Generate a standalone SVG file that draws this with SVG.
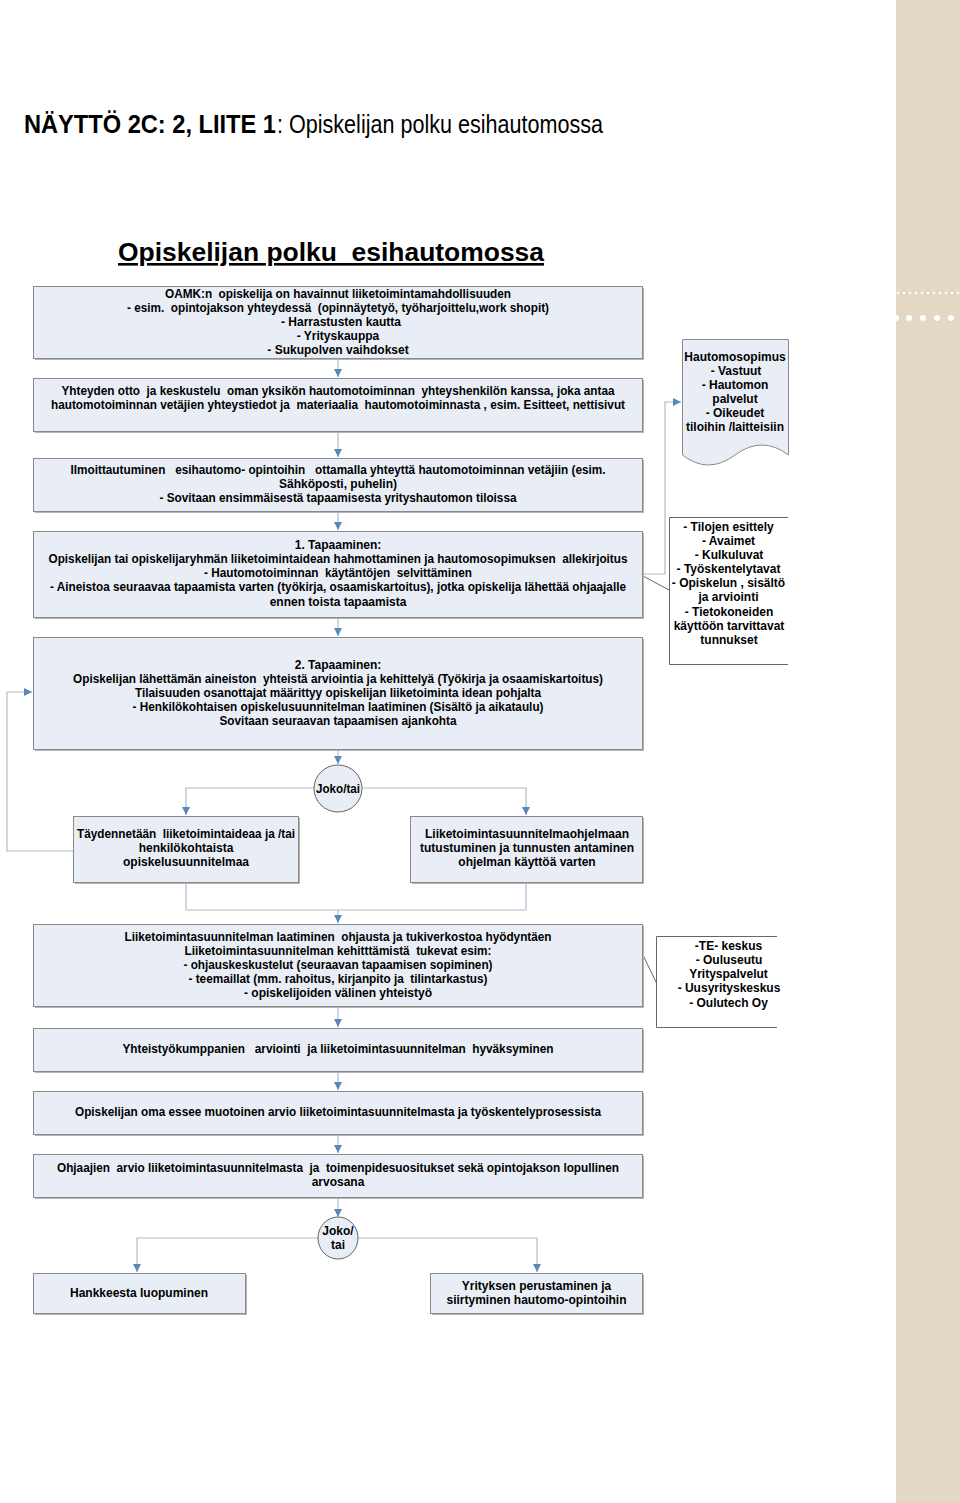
<svg xmlns="http://www.w3.org/2000/svg" width="960" height="1503" viewBox="0 0 960 1503">
<defs>
<style>
.bx{fill:#e9eef6;stroke:#8a8a8a;stroke-width:1}
.sh{fill:#b5b5b5}
.t{font-family:"Liberation Sans",Arial,sans-serif;font-size:12px;font-weight:bold;fill:#000;text-anchor:middle;white-space:pre}
.c{fill:none;stroke:#aebbcc;stroke-width:1.2}
.an{fill:none;stroke:#666;stroke-width:1}
</style>
<marker id="ah" markerUnits="userSpaceOnUse" markerWidth="9" markerHeight="9" refX="8" refY="4" orient="auto">
<path d="M0,0 L8,4 L0,8 z" fill="#5b87bb"/>
</marker>
</defs>
<rect x="0" y="0" width="960" height="1503" fill="#ffffff"/>
<!-- sidebar -->
<g id="sidebar">
<rect x="896" y="0" width="64" height="1503" fill="#e3d8c3"/>
<g fill="#ffffff">
<circle cx="898" cy="293" r="1.3"/><circle cx="904" cy="293" r="1.3"/><circle cx="910" cy="293" r="1.3"/><circle cx="916" cy="293" r="1.3"/><circle cx="922" cy="293" r="1.3"/><circle cx="928" cy="293" r="1.3"/><circle cx="934" cy="293" r="1.3"/><circle cx="940" cy="293" r="1.3"/><circle cx="946" cy="293" r="1.3"/><circle cx="952" cy="293" r="1.3"/><circle cx="958" cy="293" r="1.3"/>
<circle cx="896" cy="318" r="3"/><circle cx="909" cy="318" r="3"/><circle cx="923" cy="318" r="3"/><circle cx="937" cy="318" r="3"/><circle cx="951" cy="318" r="3"/>
</g>
</g>
<!-- titles -->
<g id="title">
<text x="24" y="133" font-family="'Liberation Sans Narrow','Liberation Sans',Arial,sans-serif" font-size="25" font-weight="bold" textLength="252" lengthAdjust="spacingAndGlyphs">NÄYTTÖ 2C: 2, LIITE 1</text>
<text x="277" y="133" font-family="'Liberation Sans Narrow','Liberation Sans',Arial,sans-serif" font-size="25" textLength="326" lengthAdjust="spacingAndGlyphs">: Opiskelijan polku esihautomossa</text>
<text x="118" y="261" font-family="'Liberation Sans',Arial,sans-serif" font-size="26" font-weight="bold" text-decoration="underline" style="white-space:pre" textLength="426" lengthAdjust="spacingAndGlyphs">Opiskelijan polku  esihautomossa</text>
</g>
<!-- connectors -->
<g id="connectors">
<path class="c" d="M338,359 V377" marker-end="url(#ah)"/>
<path class="c" d="M338,432 V457" marker-end="url(#ah)"/>
<path class="c" d="M338,512 V530" marker-end="url(#ah)"/>
<path class="c" d="M338,618 V636" marker-end="url(#ah)"/>
<path class="c" d="M338,750 V764" marker-end="url(#ah)"/>
<path class="c" d="M643,574 H665 V402 H681" marker-end="url(#ah)"/>
<path class="an" d="M643,576 L669,590"/>
<path class="c" d="M314,788 H186 V815" marker-end="url(#ah)"/>
<path class="c" d="M362,788 H526 V815" marker-end="url(#ah)"/>
<path class="c" d="M73,851 H7 V692 H32" marker-end="url(#ah)"/>
<path class="c" d="M186,883 V910 H526 V883"/>
<path class="c" d="M338,910 V923" marker-end="url(#ah)"/>
<path class="an" d="M643,955 L656,982"/>
<path class="c" d="M338,1007 V1027" marker-end="url(#ah)"/>
<path class="c" d="M338,1072 V1090" marker-end="url(#ah)"/>
<path class="c" d="M338,1135 V1153" marker-end="url(#ah)"/>
<path class="c" d="M338,1198 V1217" marker-end="url(#ah)"/>
<path class="c" d="M318,1238 H137 V1272" marker-end="url(#ah)"/>
<path class="c" d="M358,1238 H537 V1272" marker-end="url(#ah)"/>
</g>
<!-- nodes -->
<g id="n1">
<rect class="sh" x="35" y="288" width="609" height="72"/>
<rect class="bx" x="33.5" y="286.5" width="609" height="72"/>
<text class="t" x="338" y="298" textLength="346" lengthAdjust="spacingAndGlyphs">OAMK:n  opiskelija on havainnut liiketoimintamahdollisuuden</text>
<text class="t" x="338" y="312" textLength="422" lengthAdjust="spacingAndGlyphs">- esim.  opintojakson yhteydessä  (opinnäytetyö, työharjoittelu,work shopit)</text>
<text class="t" x="341" y="326">- Harrastusten kautta</text>
<text class="t" x="338" y="340">- Yrityskauppa</text>
<text class="t" x="338" y="354">- Sukupolven vaihdokset</text>
</g>
<g id="n2">
<rect class="sh" x="35" y="380" width="609" height="53"/>
<rect class="bx" x="33.5" y="378.5" width="609" height="53"/>
<text class="t" x="338" y="395" textLength="553" lengthAdjust="spacingAndGlyphs">Yhteyden otto  ja keskustelu  oman yksikön hautomotoiminnan  yhteyshenkilön kanssa, joka antaa</text>
<text class="t" x="338" y="409" textLength="574" lengthAdjust="spacingAndGlyphs">hautomotoiminnan vetäjien yhteystiedot ja  materiaalia  hautomotoiminnasta , esim. Esitteet, nettisivut</text>
</g>
<g id="n3">
<path d="M682.5,339.5 H788.5 V455 Q762,435 735,455 T682.5,455 Z" fill="#e9eef6" stroke="#8a8a8a"/>
<text class="t" x="735" y="361">Hautomosopimus</text>
<text class="t" x="736" y="375">- Vastuut</text>
<text class="t" x="735" y="389">- Hautomon</text>
<text class="t" x="735" y="403">palvelut</text>
<text class="t" x="735" y="417">- Oikeudet</text>
<text class="t" x="735" y="431">tiloihin /laitteisiin</text>
</g>
<g id="n4">
<rect class="sh" x="35" y="460" width="609" height="53"/>
<rect class="bx" x="33.5" y="458.5" width="609" height="53"/>
<text class="t" x="338" y="474" textLength="535" lengthAdjust="spacingAndGlyphs">Ilmoittautuminen   esihautomo- opintoihin   ottamalla yhteyttä hautomotoiminnan vetäjiin (esim.</text>
<text class="t" x="338" y="488">Sähköposti, puhelin)</text>
<text class="t" x="338" y="502" textLength="357" lengthAdjust="spacingAndGlyphs">- Sovitaan ensimmäisestä tapaamisesta yrityshautomon tiloissa</text>
</g>
<g id="n5">
<rect class="sh" x="35" y="533" width="609" height="86"/>
<rect class="bx" x="33.5" y="531.5" width="609" height="86"/>
<text class="t" x="338" y="549">1. Tapaaminen:</text>
<text class="t" x="338" y="563" textLength="579" lengthAdjust="spacingAndGlyphs">Opiskelijan tai opiskelijaryhmän liiketoimintaidean hahmottaminen ja hautomosopimuksen  allekirjoitus</text>
<text class="t" x="338" y="577" textLength="268" lengthAdjust="spacingAndGlyphs">- Hautomotoiminnan  käytäntöjen  selvittäminen</text>
<text class="t" x="338" y="591" textLength="576" lengthAdjust="spacingAndGlyphs">- Aineistoa seuraavaa tapaamista varten (työkirja, osaamiskartoitus), jotka opiskelija lähettää ohjaajalle</text>
<text class="t" x="338" y="606">ennen toista tapaamista</text>
</g>
<g id="n6">
<path class="an" d="M788,517.5 H669.5 V664.5 H788"/>
<text class="t" x="728.5" y="531">- Tilojen esittely</text>
<text class="t" x="728.5" y="545">- Avaimet</text>
<text class="t" x="729" y="559">- Kulkuluvat</text>
<text class="t" x="728.5" y="573">- Työskentelytavat</text>
<text class="t" x="728.5" y="587">- Opiskelun , sisältö</text>
<text class="t" x="728.5" y="601">ja arviointi</text>
<text class="t" x="729" y="616">- Tietokoneiden</text>
<text class="t" x="729" y="630">käyttöön tarvittavat</text>
<text class="t" x="729" y="644">tunnukset</text>
</g>
<g id="n7">
<rect class="sh" x="35" y="639" width="609" height="112"/>
<rect class="bx" x="33.5" y="637.5" width="609" height="112"/>
<text class="t" x="338" y="669">2. Tapaaminen:</text>
<text class="t" x="338" y="683" textLength="530" lengthAdjust="spacingAndGlyphs">Opiskelijan lähettämän aineiston  yhteistä arviointia ja kehittelyä (Työkirja ja osaamiskartoitus)</text>
<text class="t" x="338" y="697" textLength="406" lengthAdjust="spacingAndGlyphs">Tilaisuuden osanottajat määrittyy opiskelijan liiketoiminta idean pohjalta</text>
<text class="t" x="338" y="711" textLength="411" lengthAdjust="spacingAndGlyphs">- Henkilökohtaisen opiskelusuunnitelman laatiminen (Sisältö ja aikataulu)</text>
<text class="t" x="338" y="725" textLength="237" lengthAdjust="spacingAndGlyphs">Sovitaan seuraavan tapaamisen ajankohta</text>
</g>
<g id="n8">
<ellipse cx="338" cy="788.5" rx="24" ry="23.5" fill="#e9eef6" stroke="#666"/>
<text class="t" x="338" y="793" textLength="44" lengthAdjust="spacingAndGlyphs">Joko/tai</text>
</g>
<g id="n9">
<rect class="sh" x="75" y="818" width="225" height="66"/>
<rect class="bx" x="73.5" y="816.5" width="225" height="66"/>
<text class="t" x="186" y="838" textLength="218" lengthAdjust="spacingAndGlyphs">Täydennetään  liiketoimintaideaa ja /tai</text>
<text class="t" x="186" y="852">henkilökohtaista</text>
<text class="t" x="186" y="866">opiskelusuunnitelmaa</text>
</g>
<g id="n10">
<rect class="sh" x="412" y="818" width="232" height="66"/>
<rect class="bx" x="410.5" y="816.5" width="232" height="66"/>
<text class="t" x="527" y="838">Liiketoimintasuunnitelmaohjelmaan</text>
<text class="t" x="527" y="852">tutustuminen ja tunnusten antaminen</text>
<text class="t" x="527" y="866">ohjelman käyttöä varten</text>
</g>
<g id="n11">
<rect class="sh" x="35" y="926" width="609" height="82"/>
<rect class="bx" x="33.5" y="924.5" width="609" height="82"/>
<text class="t" x="338" y="941" textLength="427" lengthAdjust="spacingAndGlyphs">Liiketoimintasuunnitelman laatiminen  ohjausta ja tukiverkostoa hyödyntäen</text>
<text class="t" x="338" y="955" textLength="307" lengthAdjust="spacingAndGlyphs">Liiketoimintasuunnitelman kehitttämistä  tukevat esim:</text>
<text class="t" x="338" y="969" textLength="309" lengthAdjust="spacingAndGlyphs">- ohjauskeskustelut (seuraavan tapaamisen sopiminen)</text>
<text class="t" x="338" y="983" textLength="299" lengthAdjust="spacingAndGlyphs">- teemaillat (mm. rahoitus, kirjanpito ja  tilintarkastus)</text>
<text class="t" x="338" y="997">- opiskelijoiden välinen yhteistyö</text>
</g>
<g id="n12">
<path class="an" d="M777,936.5 H656.5 V1027.5 H777"/>
<text class="t" x="728.5" y="950">-TE- keskus</text>
<text class="t" x="729" y="964">- Ouluseutu</text>
<text class="t" x="728.5" y="978">Yrityspalvelut</text>
<text class="t" x="729" y="992">- Uusyrityskeskus</text>
<text class="t" x="728.5" y="1007">- Oulutech Oy</text>
</g>
<g id="n13">
<rect class="sh" x="35" y="1030" width="609" height="43"/>
<rect class="bx" x="33.5" y="1028.5" width="609" height="43"/>
<text class="t" x="338" y="1053" textLength="431" lengthAdjust="spacingAndGlyphs">Yhteistyökumppanien   arviointi  ja liiketoimintasuunnitelman  hyväksyminen</text>
</g>
<g id="n14">
<rect class="sh" x="35" y="1093" width="609" height="43"/>
<rect class="bx" x="33.5" y="1091.5" width="609" height="43"/>
<text class="t" x="338" y="1116" textLength="526" lengthAdjust="spacingAndGlyphs">Opiskelijan oma essee muotoinen arvio liiketoimintasuunnitelmasta ja työskentelyprosessista</text>
</g>
<g id="n15">
<rect class="sh" x="35" y="1156" width="609" height="43"/>
<rect class="bx" x="33.5" y="1154.5" width="609" height="43"/>
<text class="t" x="338" y="1172" textLength="562" lengthAdjust="spacingAndGlyphs">Ohjaajien  arvio liiketoimintasuunnitelmasta  ja  toimenpidesuositukset sekä opintojakson lopullinen</text>
<text class="t" x="338" y="1186">arvosana</text>
</g>
<g id="n16">
<ellipse cx="338" cy="1238" rx="20" ry="21" fill="#e9eef6" stroke="#666"/>
<text class="t" x="338" y="1235">Joko/</text>
<text class="t" x="338" y="1249">tai</text>
</g>
<g id="n17">
<rect class="sh" x="35" y="1275" width="212" height="40"/>
<rect class="bx" x="33.5" y="1273.5" width="212" height="40"/>
<text class="t" x="139" y="1297">Hankkeesta luopuminen</text>
</g>
<g id="n18">
<rect class="sh" x="432" y="1275" width="212" height="40"/>
<rect class="bx" x="430.5" y="1273.5" width="212" height="40"/>
<text class="t" x="536.5" y="1290">Yrityksen perustaminen ja</text>
<text class="t" x="536.5" y="1304">siirtyminen hautomo-opintoihin</text>
</g>
</svg>
